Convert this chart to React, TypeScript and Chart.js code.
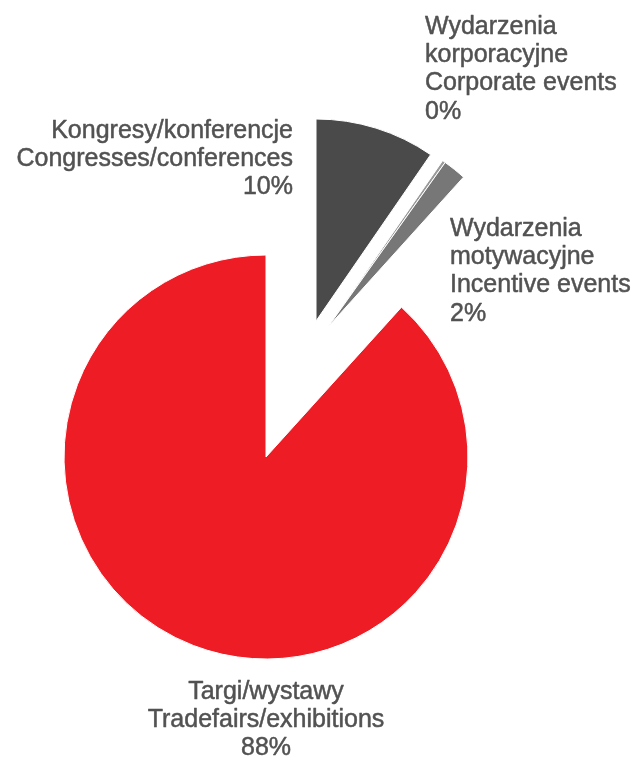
import React, { useEffect, useRef } from "react";
import { Chart, registerables } from "chart.js";

Chart.register(...registerables);

// Slice names (Polish, may hold a line break) and English names
const categoriesPL = [
  "Kongresy/konferencje",
  "Wydarzenia\nkorporacyjne",
  "Wydarzenia\nmotywacyjne",
  "Targi/wystawy",
];
const categoriesEN = [
  "Congresses/conferences",
  "Corporate events",
  "Incentive events",
  "Tradefairs/exhibitions",
];
// Shares in percent, clockwise from 12 o'clock
const shares = [9.6, 0.25, 1.85, 88.3];

const sliceColors = ["#4a4a4a", "#9a9a9a", "#777777", "#ee1d25"];

const explodePlugin = {
  id: "explodeShift",
  afterDatasetUpdate(chart: any, args: any, opts: any) {
    const meta = args.meta;
    meta.data.forEach((arc: any, i: number) => {
      const s = opts.shifts[i];
      if (s) {
        arc.x += s[0];
        arc.y += s[1];
      }
    });
  },
};

const labelPlugin = {
  id: "sliceLabels",
  afterDatasetsDraw(chart: any, _args: any, opts: any) {
    const ctx = chart.ctx;
    const meta = chart.getDatasetMeta(0);
    const data = chart.data.datasets[0].data as number[];
    const total = data.reduce((a, b) => a + b, 0);
    ctx.save();
    ctx.font = opts.font;
    ctx.fillStyle = opts.color;
    ctx.strokeStyle = opts.color;
    ctx.lineWidth = opts.weightStroke;
    ctx.lineJoin = "round";
    ctx.textBaseline = "middle";
    meta.data.forEach((arc: any, i: number) => {
      const p = opts.places[i];
      const lines = [
        ...categoriesPL[i].split("\n"),
        categoriesEN[i],
        Math.round((data[i] / total) * 100) + "%",
      ];
      ctx.textAlign = p.align;
      lines.forEach((t, k) => {
        const x = arc.x + p.dx;
        const y = arc.y + p.dy + k * opts.lineHeight;
        ctx.fillText(t, x, y);
        ctx.strokeText(t, x, y);
      });
    });
    ctx.restore();
  },
};

export default function App() {
  const ref = useRef<HTMLCanvasElement | null>(null);

  useEffect(() => {
    if (!ref.current) return;
    const chart = new Chart(ref.current, {
      type: "pie",
      data: {
        labels: categoriesEN,
        datasets: [
          {
            data: shares,
            backgroundColor: sliceColors,
            borderColor: "#ffffff",
            borderWidth: 1,
          },
        ],
      },
      options: {
        responsive: false,
        animation: false,
        radius: 202,
        layout: { padding: { left: 0, right: 101, top: 153, bottom: 0 } },
        plugins: {
          legend: { display: false },
          tooltip: { enabled: false },
          explodeShift: {
            shifts: [
              [50, -136],
              [62, -130],
              [62, -130],
              null,
            ],
          },
          sliceLabels: {
            font: "25px 'Liberation Sans', Arial, sans-serif",
            color: "#525252",
            weightStroke: 0.5,
            lineHeight: 28.3,
            places: [
              { dx: -23, dy: -190, align: "right" },
              { dx: 97, dy: -300, align: "left" },
              { dx: 122, dy: -98, align: "left" },
              { dx: 0, dy: 235, align: "center" },
            ],
          },
        } as any,
      },
      plugins: [explodePlugin, labelPlugin],
    });
    return () => chart.destroy();
  }, []);

  return (
    <div style={{ position: "absolute", left: 0, top: 0, width: 633, height: 761 }}>
      <canvas ref={ref} width={633} height={761} />
    </div>
  );
}
